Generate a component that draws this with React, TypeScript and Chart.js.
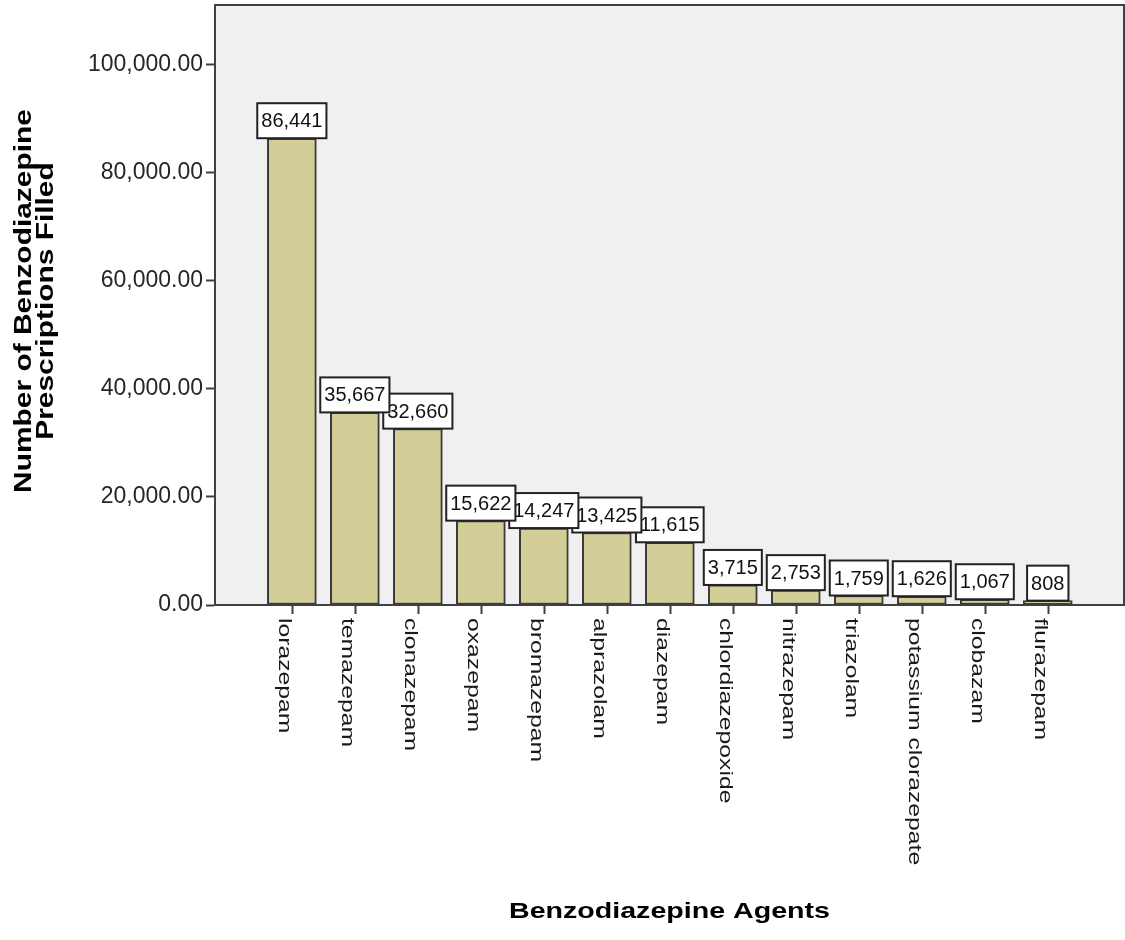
import { useEffect, useRef } from "react";
import { Chart, registerables } from "chart.js";

Chart.register(...registerables);

const agents = [
  "lorazepam",
  "temazepam",
  "clonazepam",
  "oxazepam",
  "bromazepam",
  "alprazolam",
  "diazepam",
  "chlordiazepoxide",
  "nitrazepam",
  "triazolam",
  "potassium clorazepate",
  "clobazam",
  "flurazepam",
];
const prescriptions = [86441, 35667, 32660, 15622, 14247, 13425, 11615, 3715, 2753, 1759, 1626, 1067, 808];
const yTicks = [0, 20000, 40000, 60000, 80000, 100000];

const FONT = '"Liberation Sans", Arial, sans-serif';
const STRETCH = 1.3;

const fmt2 = (v: number) =>
  v.toLocaleString("en-US", { minimumFractionDigits: 2, maximumFractionDigits: 2 });

const decorPlugin = {
  id: "spssDecor",
  beforeDraw(chart: any) {
    const { ctx, chartArea: a } = chart;
    ctx.save();
    ctx.fillStyle = "#f0f0f0";
    ctx.fillRect(a.left, a.top, a.right - a.left, a.bottom - a.top);
    ctx.restore();
  },
  afterDatasetsDraw(chart: any) {
    const { ctx, chartArea: a } = chart;
    const xs = chart.scales.x;
    const meta = chart.getDatasetMeta(0);

    // frame
    ctx.save();
    ctx.strokeStyle = "#404040";
    ctx.lineWidth = 2;
    ctx.strokeRect(a.left, a.top, a.right - a.left, a.bottom - a.top);

    // x ticks + rotated labels
    ctx.fillStyle = "#1a1a1a";
    ctx.font = `19px ${FONT}`;
    agents.forEach((name, i) => {
      const px = Math.round(xs.getPixelForValue(i)) + 0.5;
      ctx.beginPath();
      ctx.moveTo(px, a.bottom);
      ctx.lineTo(px, a.bottom + 9);
      ctx.stroke();
      ctx.save();
      ctx.translate(px + 1, a.bottom + 13);
      ctx.rotate(Math.PI / 2);
      ctx.scale(STRETCH, 1);
      ctx.textAlign = "left";
      ctx.textBaseline = "top";
      ctx.fillText(name, 0, 0);
      ctx.restore();
    });

    // value boxes, drawn last-to-first so earlier ones sit on top
    ctx.font = `20px ${FONT}`;
    for (let i = prescriptions.length - 1; i >= 0; i--) {
      const bar = meta.data[i];
      const label = prescriptions[i].toLocaleString("en-US");
      const w = ctx.measureText(label).width + 8;
      const h = 35;
      const x0 = bar.x - w / 2;
      const y0 = bar.y - h;
      ctx.fillStyle = "#ffffff";
      ctx.fillRect(x0, y0, w, h);
      ctx.strokeStyle = "#222222";
      ctx.lineWidth = 2;
      ctx.strokeRect(x0, y0, w, h);
      ctx.fillStyle = "#111111";
      ctx.textAlign = "center";
      ctx.textBaseline = "middle";
      ctx.fillText(label, bar.x, y0 + h / 2 + 1);
    }

    // axis titles
    ctx.fillStyle = "#000000";
    ctx.font = `bold 22px ${FONT}`;
    ctx.textAlign = "center";
    ctx.textBaseline = "alphabetic";
    ctx.save();
    ctx.translate((a.left + a.right) / 2, 918);
    ctx.scale(STRETCH, 1);
    ctx.fillText("Benzodiazepine Agents", 0, 0);
    ctx.restore();

    ctx.font = `bold 23px ${FONT}`;
    ctx.save();
    ctx.translate(0, 301);
    ctx.rotate(-Math.PI / 2);
    ctx.scale(STRETCH, 1);
    ctx.fillText("Number of Benzodiazepine", 0, 31);
    ctx.fillText("Prescriptions Filled", 0, 53);
    ctx.restore();

    ctx.restore();
  },
};

export default function App() {
  const chartRef = useRef<HTMLCanvasElement | null>(null);
  const chartInstanceRef = useRef<Chart | null>(null);

  useEffect(() => {
    if (!chartRef.current) return;
    const ctx = chartRef.current.getContext("2d");
    if (!ctx) return;

    if (chartInstanceRef.current) {
      chartInstanceRef.current.destroy();
    }

    chartInstanceRef.current = new Chart(ctx, {
      type: "bar",
      data: {
        datasets: [
          {
            label: "Prescriptions",
            data: prescriptions.map((v, i) => ({ x: i, y: v })),
            backgroundColor: "#d3ce97",
            borderColor: "#3a3a3a",
            borderWidth: 2,
            borderSkipped: false,
            barThickness: 49,
          },
        ],
      },
      options: {
        responsive: false,
        animation: false,
        layout: { padding: { left: 8, top: 5, right: 1, bottom: 335 } },
        scales: {
          x: {
            type: "linear",
            min: -1.22,
            max: 13.21,
            offset: false,
            display: false,
          },
          y: {
            min: 0,
            max: 111111,
            afterBuildTicks: (scale: any) => {
              scale.ticks = yTicks.map((v) => ({ value: v }));
            },
            afterFit: (scale: any) => {
              scale.width = 207;
              scale.paddingTop = 0;
              scale.paddingBottom = 0;
            },
            ticks: {
              color: "#262626",
              font: { family: FONT, size: 23 },
              padding: 3,
              callback: (v: any) => fmt2(Number(v)),
            },
            grid: {
              drawOnChartArea: false,
              tickLength: 9,
              tickWidth: 2,
              tickColor: "#404040",
            },
            border: { display: true, color: "#404040", width: 2 },
          },
        },
        plugins: {
          legend: { display: false },
          tooltip: { enabled: false },
        },
      },
      plugins: [decorPlugin],
    });

    return () => {
      chartInstanceRef.current?.destroy();
    };
  }, []);

  return (
    <div style={{ position: "fixed", left: 0, top: 0, width: 1125, height: 940, background: "#fff" }}>
      <canvas ref={chartRef} width={1125} height={940}></canvas>
    </div>
  );
}
